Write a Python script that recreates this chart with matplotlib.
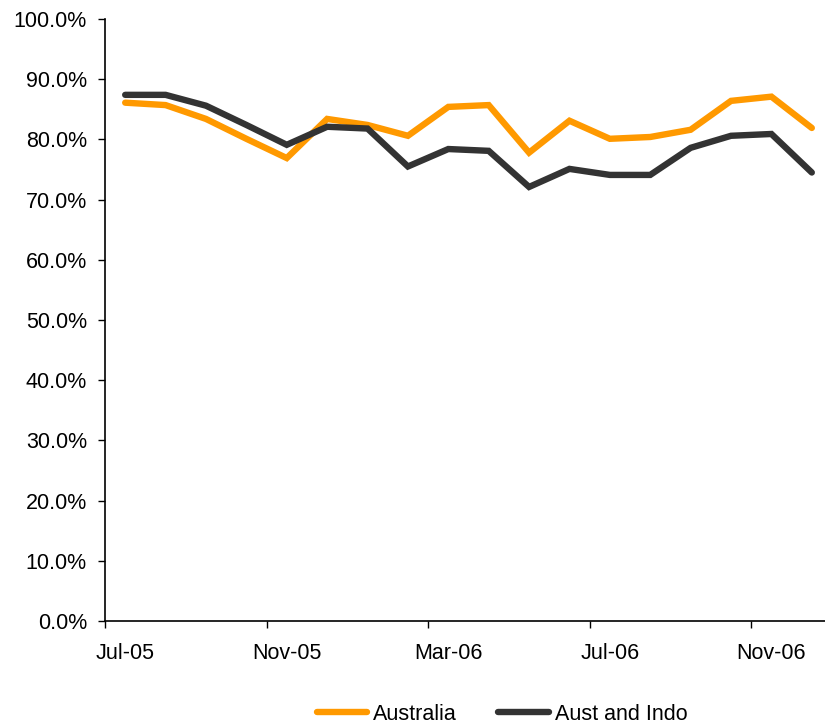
import matplotlib
matplotlib.use("Agg")
import matplotlib.pyplot as plt
from matplotlib.ticker import FuncFormatter, FixedLocator

plt.rcParams['font.family'] = ['Liberation Sans', 'DejaVu Sans']

months = ["Jul-05", "Aug-05", "Sep-05", "Oct-05", "Nov-05", "Dec-05",
          "Jan-06", "Feb-06", "Mar-06", "Apr-06", "May-06", "Jun-06",
          "Jul-06", "Aug-06", "Sep-06", "Oct-06", "Nov-06", "Dec-06"]
australia = [86.1, 85.7, 83.4, 80.1, 76.9, 83.4, 82.4, 80.6, 85.4, 85.7,
             77.8, 83.1, 80.1, 80.4, 81.6, 86.4, 87.1, 81.9]
aust_indo = [87.4, 87.4, 85.6, 82.4, 79.1, 82.1, 81.8, 75.5, 78.4, 78.1,
             72.1, 75.1, 74.1, 74.1, 78.6, 80.6, 80.9, 74.5]
tick_labels = ["Jul-05", "Nov-05", "Mar-06", "Jul-06", "Nov-06"]

W, H = 825, 726
fig = plt.figure(figsize=(W / 100, H / 100), dpi=100)
left, right, top, bottom = 105, 832, 19, 621
ax = fig.add_axes([left / W, 1 - bottom / H, (right - left) / W, (bottom - top) / H])

x = list(range(len(months)))
ax.plot(x, australia, color="#FF9900", lw=4.6, solid_capstyle="round",
        solid_joinstyle="miter", label="Australia", clip_on=False)
ax.plot(x, aust_indo, color="#333333", lw=4.6, solid_capstyle="round",
        solid_joinstyle="miter", label="Aust and Indo", clip_on=False)

FS = 15.5
ax.set_xlim(-0.5, len(months) - 0.5)
ax.set_ylim(0, 100)
ax.set_yticks([i * 10 for i in range(11)])
ax.yaxis.set_major_formatter(FuncFormatter(lambda v, p: f"{v:.1f}%"))

label_idx = [months.index(m) for m in tick_labels]
ax.xaxis.set_major_locator(FixedLocator([i - 0.5 for i in label_idx]))
ax.set_xticklabels([])
ax.set_xticks(label_idx, minor=True)
ax.set_xticklabels(tick_labels, minor=True)
ax.tick_params(axis="x", which="minor", length=0, pad=16, labelsize=FS)
ax.tick_params(axis="x", which="major", length=5, direction="out", width=1)
ax.tick_params(axis="y", length=5, direction="out", width=1, labelsize=FS, pad=8)

for s in ["top", "right"]:
    ax.spines[s].set_visible(False)
for s in ["left", "bottom"]:
    ax.spines[s].set_linewidth(1.2)

fig.legend(loc="center", bbox_to_anchor=(502 / W, 1 - 714 / H), ncol=2,
           frameon=False, fontsize=FS, handlelength=2.35, handletextpad=0.28,
           columnspacing=1.9)

fig.savefig("out.png", dpi=100)
